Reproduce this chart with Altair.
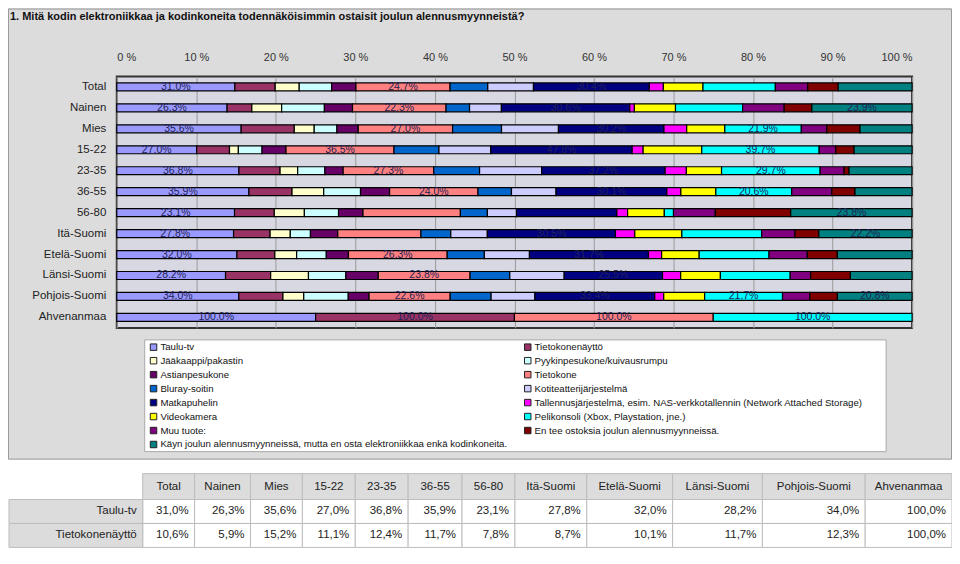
import altair as alt
import pandas as pd

# ---------------- data ----------------
categories = ["Total", "Nainen", "Mies", "15-22", "23-35", "36-55", "56-80",
              "Itä-Suomi", "Etelä-Suomi", "Länsi-Suomi", "Pohjois-Suomi", "Ahvenanmaa"]

series = [
    "Taulu-tv",
    "Tietokonenäyttö",
    "Jääkaappi/pakastin",
    "Pyykinpesukone/kuivausrumpu",
    "Astianpesukone",
    "Tietokone",
    "Bluray-soitin",
    "Kotiteatterijärjestelmä",
    "Matkapuhelin",
    "Tallennusjärjestelmä, esim. NAS-verkkotallennin (Network Attached Storage)",
    "Videokamera",
    "Pelikonsoli (Xbox, Playstation, jne.)",
    "Muu tuote:",
    "En tee ostoksia joulun alennusmyynneissä.",
    "Käyn joulun alennusmyynneissä, mutta en osta elektroniikkaa enkä kodinkoneita.",
]

colors = ["#9999FF", "#993366", "#FFFFCC", "#CCFFFF", "#660066", "#FF8080", "#0066CC",
          "#CCCCFF", "#000080", "#FF00FF", "#FFFF00", "#00FFFF", "#800080", "#800000", "#008080"]

v_taulu      = [31.0, 26.3, 35.6, 27.0, 36.8, 35.9, 23.1, 27.8, 32.0, 28.2, 34.0, 100.0]
v_naytto     = [10.6, 5.9, 15.2, 11.1, 12.4, 11.7, 7.8, 8.7, 10.1, 11.7, 12.3, 100.0]
v_jaakaappi  = [6.3, 7.1, 5.7, 3.0, 5.3, 8.6, 5.9, 4.8, 5.8, 9.8, 5.8, 0.0]
v_pyykki     = [8.5, 10.2, 6.5, 8.0, 8.2, 10.0, 6.7, 4.8, 7.9, 9.7, 12.4, 0.0]
v_astian     = [6.4, 6.7, 6.1, 8.1, 5.5, 7.9, 4.8, 6.5, 5.9, 8.4, 5.8, 0.0]
v_tietokone  = [24.7, 22.3, 27.0, 36.5, 27.3, 24.0, 19.1, 19.8, 26.3, 23.8, 22.6, 100.0]
v_bluray     = [9.9, 5.6, 14.0, 15.2, 13.8, 9.1, 5.3, 7.1, 9.9, 10.3, 11.4, 0.0]
v_kotiteatt  = [12.0, 7.6, 16.3, 17.5, 18.7, 12.1, 5.7, 8.7, 12.0, 14.1, 12.2, 0.0]
v_matka      = [30.4, 30.6, 30.2, 47.8, 37.2, 30.1, 19.7, 30.5, 31.7, 25.5, 33.4, 0.0]
v_tallennus  = [3.7, 1.1, 6.5, 3.7, 6.4, 3.8, 2.1, 4.6, 3.5, 4.7, 2.5, 0.0]
v_video      = [10.4, 9.8, 10.9, 19.8, 10.6, 9.5, 7.2, 11.2, 10.0, 10.3, 11.4, 0.0]
v_peli       = [19.0, 16.0, 21.9, 39.7, 29.7, 20.6, 1.8, 19.0, 18.6, 18.1, 21.7, 100.0]
v_muu        = [8.5, 9.9, 7.3, 5.6, 7.2, 10.9, 8.2, 7.9, 10.2, 5.3, 7.6, 0.0]
v_entee      = [8.0, 6.6, 9.5, 6.2, 1.5, 6.3, 14.8, 5.7, 8.0, 10.3, 7.7, 0.0]
v_kayn       = [19.4, 23.9, 14.9, 19.6, 19.0, 15.5, 23.8, 22.2, 19.9, 16.0, 20.8, 0.0]

values = [v_taulu, v_naytto, v_jaakaappi, v_pyykki, v_astian, v_tietokone, v_bluray,
          v_kotiteatt, v_matka, v_tallennus, v_video, v_peli, v_muu, v_entee, v_kayn]

title_text = "1. Mitä kodin elektroniikkaa ja kodinkoneita todennäköisimmin ostaisit joulun alennusmyynneistä?"
x_ticks = [i / 10 for i in range(11)]

# ---------------- layout constants ----------------
W, H = 797, 252
FONT = "Liberation Sans"
col_w = [52, 56, 52, 53, 53, 54, 53, 72, 86, 90, 103, 87]   # table column widths
table_left = 26
row_label_left = -108
row_y = [398, 424, 448, 472]   # header top, row1 top, row2 top, bottom

# legend is filled column by column: even-indexed series left, odd-indexed right
legend_order = list(range(0, len(series), 2)) + list(range(1, len(series), 2))
legend_domain = [series[i] for i in legend_order]
legend_range = [colors[i] for i in legend_order]

# ---------------- data frames ----------------
rows = []
for si, (s, vals) in enumerate(zip(series, values)):
    for ci, c in enumerate(categories):
        rows.append({"category": c, "series": s, "order": si, "value": vals[ci]})
df = pd.DataFrame(rows)

edges = [table_left]
for w in col_w:
    edges.append(edges[-1] + w)

header_df = pd.DataFrame({
    "x0": edges[:-1], "x1": edges[1:],
    "y0": row_y[0], "y1": row_y[1],
    "xc": [(a + b) / 2 for a, b in zip(edges[:-1], edges[1:])],
    "yc": (row_y[0] + row_y[1]) / 2,
    "text": categories,
})

cell_rows = []
for ri, (name, vals) in enumerate([(series[0], v_taulu), (series[1], v_naytto)]):
    for ci, c in enumerate(categories):
        cell_rows.append({"x0": edges[ci], "x1": edges[ci + 1],
                          "y0": row_y[ri + 1], "y1": row_y[ri + 2],
                          "xr": edges[ci + 1] - 6, "yc": (row_y[ri + 1] + row_y[ri + 2]) / 2,
                          "v": vals[ci]})
cells_df = pd.DataFrame(cell_rows)

rowlab_df = pd.DataFrame({
    "x0": [row_label_left] * 2, "x1": [table_left] * 2,
    "y0": row_y[1:3], "y1": row_y[2:4],
    "xr": [table_left - 6] * 2,
    "yc": [(row_y[1] + row_y[2]) / 2, (row_y[2] + row_y[3]) / 2],
    "text": series[:2],
})

one = pd.DataFrame({"k": [0]})

# ---------------- decorations ----------------
white_bottom = alt.Chart(one).mark_rect(color="white").encode(
    x=alt.value(-120), x2=alt.value(W + 60), y=alt.value(384), y2=alt.value(H + 240))
panel_border = alt.Chart(one).mark_rect(fillOpacity=0, stroke="#9A9A9A", strokeWidth=1).encode(
    x=alt.value(-108.5), x2=alt.value(W + 39.5), y=alt.value(-67.5), y2=alt.value(383.5))
title = alt.Chart(one).mark_text(align="left", baseline="middle", fontWeight="bold",
                                 fontSize=11, font=FONT, color="#111").encode(
    x=alt.value(-107), y=alt.value(-60), text=alt.value(title_text))
legend_box = alt.Chart(one).mark_rect(fill="white", stroke="#A8A8A8", strokeWidth=1).encode(
    x=alt.value(28), x2=alt.value(771), y=alt.value(264), y2=alt.value(376))

# ---------------- bars ----------------
stacked = alt.Chart(df).transform_filter("datum.value > 0").transform_stack(
    stack="value", groupby=["category"], as_=["x0", "x1"], offset="normalize",
    sort=[alt.SortField("order", order="ascending")])

xscale = alt.Scale(domain=[0, 1], nice=False, zero=False)
yscale = alt.Scale(domain=categories, paddingInner=0, paddingOuter=0)

bars = stacked.mark_bar(size=8, stroke="black", strokeWidth=1.2).encode(
    x=alt.X("x0:Q", scale=xscale,
            axis=alt.Axis(orient="top", values=x_ticks, labelExpr="round(datum.value*100) + ' %'",
                          grid=True, gridColor="#9A9A9A", gridWidth=1, ticks=False, domain=False,
                          labelPadding=14, labelFont=FONT, labelFontSize=11, labelColor="#333",
                          title=None)),
    x2="x1:Q",
    y=alt.Y("category:N", scale=yscale,
            axis=alt.Axis(title=None, ticks=False, domain=False, labelPadding=11,
                          labelFont=FONT, labelFontSize=11.5, labelColor="#222")),
    color=alt.Color("series:N", scale=alt.Scale(domain=legend_domain, range=legend_range),
                    legend=alt.Legend(orient="none", legendX=32, legendY=266, direction="vertical",
                                      columns=2, columnPadding=14, rowPadding=2,
                                      symbolType="square", symbolSize=42,
                                      symbolStrokeColor="#222", symbolStrokeWidth=1,
                                      labelFont=FONT, labelFontSize=9.7, labelColor="#111",
                                      labelLimit=0, labelOffset=2, title=None, padding=0)),
)

labels = stacked.transform_filter("datum.value >= 20").transform_calculate(
    xm="(datum.x0 + datum.x1) / 2",
    lbl="format(datum.value, '.1f') + '%'",
).mark_text(font=FONT, fontSize=10.5, color="#222255", baseline="middle").encode(
    x=alt.X("xm:Q", scale=xscale, axis=None),
    y=alt.Y("category:N", scale=yscale, axis=None),
    text="lbl:N",
)

# ---------------- table ----------------
hdr_rect = alt.Chart(header_df).mark_rect(fill="#DCDCDC", stroke="#BDBDBD", strokeWidth=1).encode(
    x=alt.X("x0:Q", scale=None, axis=None), x2="x1:Q",
    y=alt.Y("y0:Q", scale=None, axis=None), y2="y1:Q")
hdr_text = alt.Chart(header_df).mark_text(font=FONT, fontSize=11.5, color="#222", baseline="middle").encode(
    x=alt.X("xc:Q", scale=None, axis=None), y=alt.Y("yc:Q", scale=None, axis=None), text="text:N")
cell_rect = alt.Chart(cells_df).mark_rect(fill="white", stroke="#BDBDBD", strokeWidth=1).encode(
    x=alt.X("x0:Q", scale=None, axis=None), x2="x1:Q",
    y=alt.Y("y0:Q", scale=None, axis=None), y2="y1:Q")
cell_text = alt.Chart(cells_df).transform_calculate(
    t="replace(format(datum.v, '.1f'), '.', ',') + '%'"
).mark_text(font=FONT, fontSize=11.5, color="#222", align="right", baseline="middle").encode(
    x=alt.X("xr:Q", scale=None, axis=None), y=alt.Y("yc:Q", scale=None, axis=None), text="t:N")
rl_rect = alt.Chart(rowlab_df).mark_rect(fill="#DCDCDC", stroke="#BDBDBD", strokeWidth=1).encode(
    x=alt.X("x0:Q", scale=None, axis=None), x2="x1:Q",
    y=alt.Y("y0:Q", scale=None, axis=None), y2="y1:Q")
rl_text = alt.Chart(rowlab_df).mark_text(font=FONT, fontSize=11.5, color="#222", align="right", baseline="middle").encode(
    x=alt.X("xr:Q", scale=None, axis=None), y=alt.Y("yc:Q", scale=None, axis=None), text="text:N")

chart = alt.layer(
    white_bottom, panel_border, title, legend_box, bars, labels,
    hdr_rect, hdr_text, cell_rect, cell_text, rl_rect, rl_text,
).resolve_scale(x="independent", y="independent").properties(
    width=W, height=H,
    background="#DCDCDC",
    padding={"left": 109, "top": 68, "right": 40, "bottom": 220},
    autosize=alt.AutoSizeParams(type="none"),
).configure_view(fill="#D8D8E2", stroke="#333333", strokeWidth=2)

chart.save("out.html", embed_options={"renderer": "svg", "actions": False})
